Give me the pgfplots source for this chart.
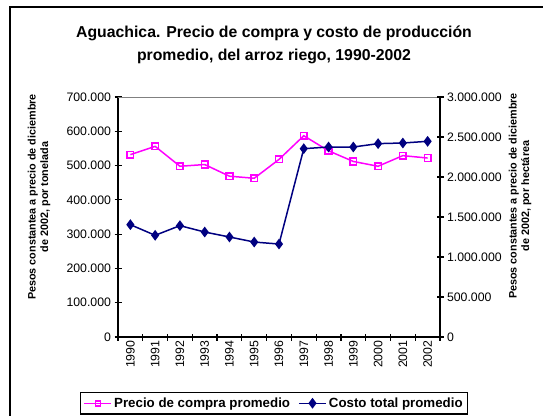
\documentclass[border=0pt]{standalone}
\usepackage{fontspec}
\setmainfont{Liberation Sans}
\usepackage{pgfplots}
\usepackage{pgfplotstable}
\pgfplotsset{compat=1.18}

\definecolor{precio}{RGB}{255,0,255}
\definecolor{costo}{RGB}{0,0,128}

% anio (0 = 1990), precio por tonelada, costo por hectarea
\pgfplotstableread{
x precio costo
0  532000 1404000
1  556000 1271000
2  498000 1392000
3  503000 1312000
4  469000 1250000
5  463000 1187000
6  518000 1162000
7  587000 2354000
8  543000 2375000
9  512000 2375000
10 498000 2417000
11 529000 2425000
12 522000 2446000
}\datos

\pgfplotsset{
  base/.style={
    at={(118pt,78pt)}, anchor=south west,
    scale only axis, width=322pt, height=240pt,
    xmin=-0.5, xmax=12.5, ymin=0,
    axis line style={line width=1.4pt, black},
    tick align=center, major tick length=7pt,
    every tick/.style={line width=1.2pt, black},
    scaled y ticks=false,
    /pgf/number format/fixed,
    /pgf/number format/precision=0,
    /pgf/number format/1000 sep={.},
    /pgf/number format/assume math mode=true,
    tick label style={font=\fontsize{12.3}{14}\selectfont},
  },
}

\begin{document}
\begin{tikzpicture}[x=1pt,y=1pt]
\useasboundingbox (0,0) rectangle (543,415);
\draw[line width=1.5pt] (10,408) rectangle (620,-60);
\node[font=\bfseries\fontsize{15.8}{23}\selectfont, align=center] at (274,370)
  {Aguachica. Precio de compra y costo de producción\\promedio, del arroz riego,  1990-2002};
\node[rotate=90, align=center, font=\bfseries\fontsize{10.8}{12.5}\selectfont] at (39,218)
  {Pesos constantea a precio de diciembre\\de 2002, por tonelada};
\node[rotate=90, align=center, font=\bfseries\fontsize{10.8}{12.5}\selectfont] at (520,219)
  {Pesos constantes a precio de diciembre\\de 2002, por hectárea};

\begin{axis}[base,
    ymax=700000, ytick={0,100000,...,700000},
    axis x line*=bottom, axis y line*=left,
    xtick={-0.5,0.5,...,12.5}, xticklabels={,,,,,,,,,,,,,},
    extra x ticks={0,...,12},
    extra x tick labels={1990,1991,1992,1993,1994,1995,1996,1997,1998,1999,2000,2001,2002},
    extra x tick style={major tick length=0pt,
      tick label style={rotate=90, anchor=east, font=\fontsize{12.3}{14}\selectfont}},
  ]
  \draw[gray, line width=1.2pt] (rel axis cs:0,1) -- (rel axis cs:1,1);
  \addplot[precio, line width=1.5pt, mark=square, mark size=3.3pt,
    mark options={line width=1.5pt}] table[x=x, y=precio] {\datos};
\end{axis}

\begin{axis}[base,
    ymax=3000000, ytick={0,500000,...,3000000},
    axis y line*=right, axis x line=none,
    legend style={at={(0.4845,-0.229)}, anchor=north, legend columns=2,
      draw=black, line width=1.5pt, inner sep=3pt,
      font=\bfseries\fontsize{13.3}{15}\selectfont,
      /tikz/every even column/.append style={column sep=6pt}},
    legend image code/.code={
      \draw[mark repeat=2, mark phase=2, #1] plot coordinates {(0cm,0cm) (0.48cm,0cm) (0.96cm,0cm)};},
  ]
  \addlegendimage{precio, line width=1.5pt, mark=square, mark size=2.5pt, mark options={line width=1.5pt}}
  \addlegendentry{Precio de compra promedio}
  \addplot[costo, line width=1.5pt, mark=diamond*, mark size=4.2pt] table[x=x, y=costo] {\datos};
  \addlegendentry{Costo total promedio}
\end{axis}
\end{tikzpicture}
\end{document}
